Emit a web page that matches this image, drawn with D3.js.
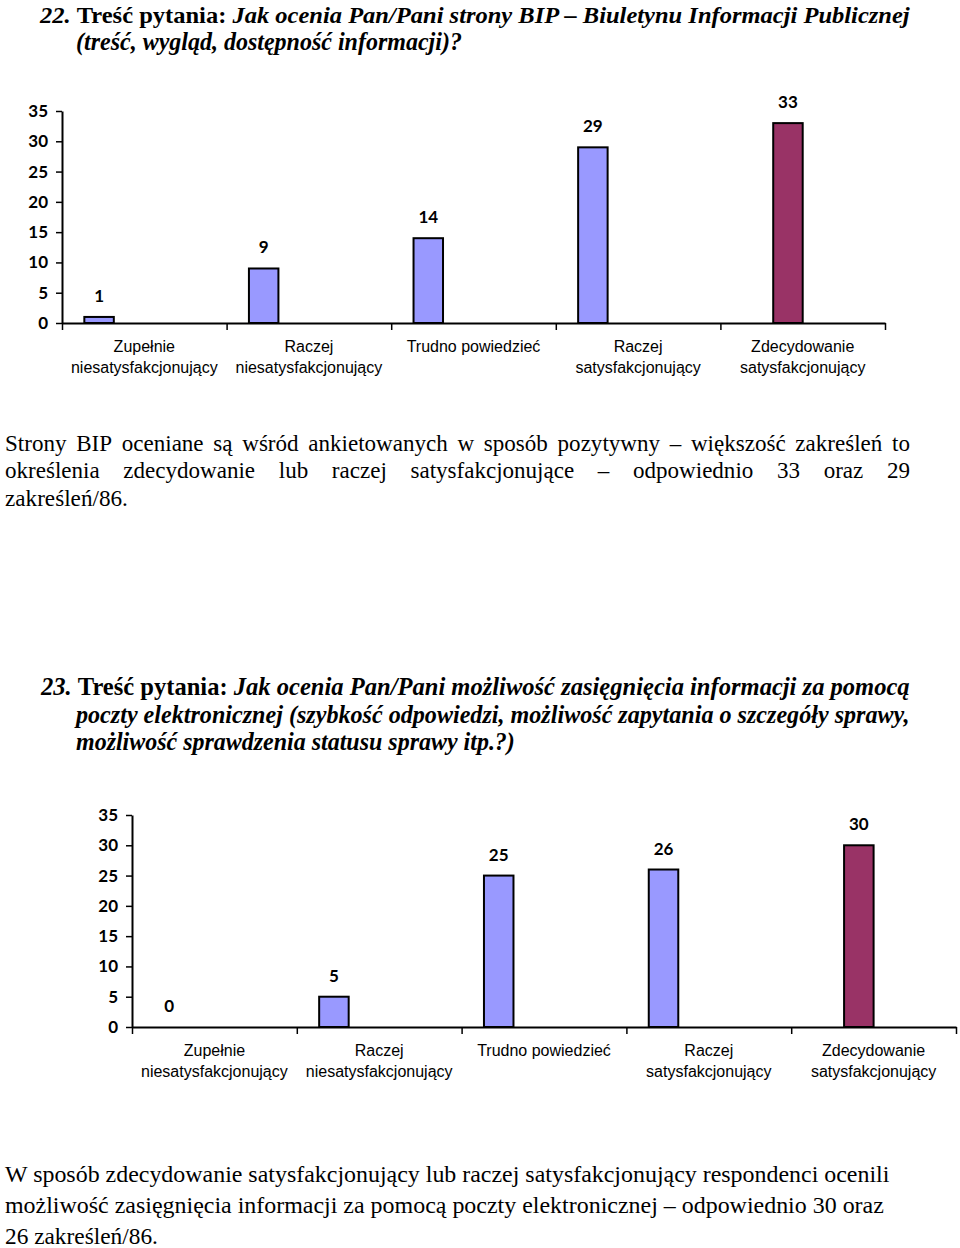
<!DOCTYPE html>
<html>
<head>
<meta charset="utf-8">
<script src="https://cdn.jsdelivr.net/npm/d3@7"></script>
<style>
  body { margin: 0; background: #fff; }
  text { white-space: pre; }
</style>
</head>
<body>
<svg id="page" width="960" height="1248"></svg>
<script>
// categories (two-line labels) and values
const categories = [
  ["Zupełnie", "niesatysfakcjonujący"],
  ["Raczej", "niesatysfakcjonujący"],
  ["Trudno powiedzieć"],
  ["Raczej", "satysfakcjonujący"],
  ["Zdecydowanie", "satysfakcjonujący"]
];
const values22 = [1, 9, 14, 29, 33];
const values23 = [0, 5, 25, 26, 30];
const seriesOf = [0, 0, 0, 0, 1];          // which series slot each bar sits in
const seriesColors = ["#9999ff", "#993366"];
const yTicks = [0, 5, 10, 15, 20, 25, 30, 35];

const heading22 = [
  [["22. ", "bi"], ["Treść pytania: ", "b"], ["Jak ocenia Pan/Pani strony BIP – Biuletynu Informacji Publicznej", "bi"]],
  [["(treść, wygląd, dostępność informacji)?", "bi"]]
];
const heading23 = [
  [["23. ", "bi"], ["Treść pytania: ", "b"], ["Jak ocenia Pan/Pani możliwość zasięgnięcia informacji za pomocą", "bi"]],
  [["poczty elektronicznej (szybkość odpowiedzi, możliwość zapytania o szczegóły sprawy,", "bi"]],
  [["możliwość sprawdzenia statusu sprawy itp.?)", "bi"]]
];
const para22 = [
  "Strony BIP oceniane są wśród ankietowanych w sposób pozytywny – większość zakreśleń to",
  "określenia zdecydowanie lub raczej satysfakcjonujące – odpowiednio 33 oraz 29",
  "zakreśleń/86."
];
const para23 = [
  "W sposób zdecydowanie satysfakcjonujący lub raczej satysfakcjonujący respondenci ocenili",
  "możliwość zasięgnięcia informacji za pomocą poczty elektronicznej – odpowiednio 30 oraz",
  "26 zakreśleń/86."
];

const svg = d3.select("#page");
const serif = "'Liberation Serif', 'Times New Roman', serif";
const sans = "'Liberation Sans', Arial, sans-serif";
const numFont = "Lato, 'Open Sans', sans-serif";

// one line of mixed bold / bold-italic text squeezed to a width
function scaledLine(parts, x, y, width, size) {
  var t = svg.append("text")
    .attr("font-family", serif)
    .attr("font-size", size)
    .attr("fill", "#000");
  parts.forEach(p => {
    t.append("tspan")
      .attr("font-weight", p[1].indexOf("b") >= 0 ? "bold" : "normal")
      .attr("font-style", p[1].indexOf("i") >= 0 ? "italic" : "normal")
      .text(p[0]);
  });
  var w = t.node().getComputedTextLength();
  var sx = width ? width / w : 1;
  t.attr("transform", `translate(${x},${y}) scale(${sx},1)`);
}

// justified line: words (slightly condensed) spread across the width
function justifyLine(line, x, y, width, size, sx) {
  var words = line.split(" ");
  var nodes = words.map(wd => svg.append("text")
    .attr("font-family", serif)
    .attr("font-size", size)
    .attr("fill", "#000")
    .text(wd));
  var widths = nodes.map(n => n.node().getComputedTextLength() * sx);
  var gap = (width - d3.sum(widths)) / (words.length - 1);
  var cx = x;
  nodes.forEach((n, i) => {
    n.attr("transform", `translate(${cx},${y}) scale(${sx},1)`);
    cx += widths[i] + gap;
  });
}

function drawBars(values, left, right, top, bottom) {
  var g = svg.append("g");
  var x = d3.scaleBand().domain(d3.range(values.length)).range([left, right]);
  var slot = d3.scaleBand().domain([0, 1, 2, 3]).range([0, x.bandwidth()]).paddingOuter(0.7);
  var y = d3.scaleLinear().domain([0, 35]).range([bottom, top]);
  var xb = d3.scaleLinear().domain([0, values.length]).range([left, right]);

  // bars
  var bars = values.map((v, i) => ({v: v, i: i})).filter(d => d.v > 0);
  g.selectAll("rect.bar").data(bars).join("rect")
    .attr("class", "bar")
    .attr("x", d => x(d.i) + slot(seriesOf[d.i]) + 1)
    .attr("width", slot.bandwidth() - 1)
    .attr("y", d => y(d.v))
    .attr("height", d => y(0) - y(d.v))
    .attr("fill", d => seriesColors[seriesOf[d.i]])
    .attr("stroke", "#000")
    .attr("stroke-width", 2);

  // value labels
  g.selectAll("text.val").data(values).join("text")
    .attr("class", "val")
    .attr("x", (d, i) => x(i) + slot(seriesOf[i]) + slot.bandwidth() / 2 + 0.5)
    .attr("y", d => y(d) - 15)
    .attr("text-anchor", "middle")
    .attr("font-family", numFont)
    .attr("font-weight", "bold")
    .attr("font-size", 17)
    .text(d => d);

  // y axis
  var ya = g.append("g").attr("transform", `translate(${left},0)`)
    .call(d3.axisLeft(y).tickValues(yTicks).tickSize(6).tickSizeOuter(0).tickPadding(8));
  ya.select(".domain").attr("stroke", "#000").attr("stroke-width", 2);
  ya.selectAll(".tick line").attr("stroke", "#000").attr("stroke-width", 1.5);
  ya.selectAll(".tick text")
    .attr("font-family", numFont).attr("font-weight", "bold")
    .attr("font-size", 17).attr("fill", "#000");

  // x axis with ticks on category boundaries
  var xa = g.append("g").attr("transform", `translate(0,${bottom})`)
    .call(d3.axisBottom(xb).ticks(values.length).tickFormat("").tickSize(7).tickSizeOuter(0));
  xa.select(".domain").attr("stroke", "#000").attr("stroke-width", 2);
  xa.selectAll(".tick line").attr("stroke", "#000").attr("stroke-width", 1.5);

  // category labels
  var lab = g.selectAll("text.cat").data(categories).join("text")
    .attr("class", "cat")
    .attr("text-anchor", "middle")
    .attr("font-family", sans)
    .attr("font-size", 16)
    .attr("fill", "#000");
  lab.each(function(d, i) {
    var t = d3.select(this);
    d.forEach((ln, k) => {
      t.append("tspan")
        .attr("x", x(i) + x.bandwidth() / 2)
        .attr("y", bottom + 29 + k * 21)
        .text(ln);
    });
  });
}

// question 22
scaledLine(heading22[0], 40, 23, 870, 24);
scaledLine(heading22[1], 76, 50, 386, 25);

drawBars(values22, 62, 885, 111, 323);

justifyLine(para22[0], 5, 451, 905, 24, 0.96);
justifyLine(para22[1], 5, 478, 905, 24, 0.96);
scaledLine([[para22[2], ""]], 5, 506, 123, 24);

// question 23
scaledLine(heading23[0], 41, 695, 869, 26);
scaledLine(heading23[1], 76, 723, 834, 26);
scaledLine(heading23[2], 76, 750, 439, 26);

drawBars(values23, 132, 956, 815, 1027);

scaledLine([[para23[0], ""]], 5, 1182, 885, 24);
scaledLine([[para23[1], ""]], 5, 1213, 879, 24);
scaledLine([[para23[2], ""]], 5, 1244, 153, 24);
</script>
</body>
</html>
